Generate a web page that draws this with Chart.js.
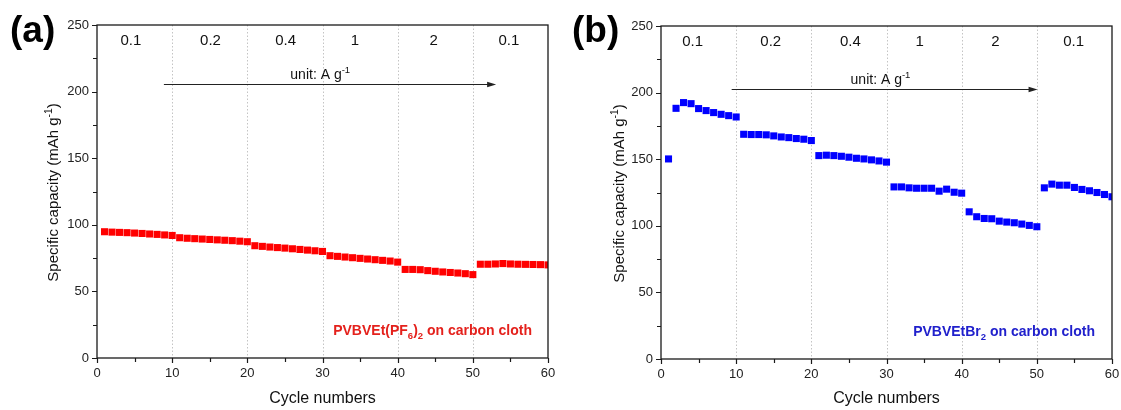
<!DOCTYPE html>
<html>
<head>
<meta charset="utf-8">
<script src="https://cdn.jsdelivr.net/npm/chart.js@4.4.1/dist/chart.umd.min.js"></script>
<style>
  html, body { margin: 0; padding: 0; background: #fff; }
  #wrap { position: relative; width: 1121px; height: 410px; overflow: hidden; }
  .panel { position: absolute; top: 0; }
</style>
</head>
<body>
<div id="wrap">
  <canvas id="chartA" class="panel" style="left:0px" width="560" height="410"></canvas>
  <canvas id="chartB" class="panel" style="left:560px" width="561" height="410"></canvas>
</div>
<script>
// Cycle index
const cycles = [
  1, 2, 3, 4, 5, 6, 7, 8, 9, 10,
  11, 12, 13, 14, 15, 16, 17, 18, 19, 20,
  21, 22, 23, 24, 25, 26, 27, 28, 29, 30,
  31, 32, 33, 34, 35, 36, 37, 38, 39, 40,
  41, 42, 43, 44, 45, 46, 47, 48, 49, 50,
  51, 52, 53, 54, 55, 56, 57, 58, 59, 60
];

// Specific capacity (mAh g-1), PVBVEt(PF6)2 on carbon cloth
const capacityPF6 = [
  94.8, 94.5, 94.3, 94.1, 93.8, 93.5, 93.1, 92.8, 92.4, 92.0,
  90.3, 89.9, 89.6, 89.3, 89.0, 88.7, 88.4, 88.1, 87.7, 87.3,
  84.3, 83.8, 83.3, 82.9, 82.5, 82.0, 81.5, 81.0, 80.5, 80.0,
  76.8, 76.3, 75.8, 75.3, 74.8, 74.3, 73.8, 73.3, 72.8, 72.0,
  66.5, 66.5, 66.3, 65.6, 65.1, 64.6, 64.2, 63.8, 63.3, 62.6,
  70.4, 70.4, 70.6, 70.9, 70.6, 70.4, 70.3, 70.2, 70.1, 69.9
];

// Specific capacity (mAh g-1), PVBVEtBr2 on carbon cloth
const capacityBr = [
  150.2, 188.2, 192.5, 191.7, 188.0, 186.5, 185.0, 183.7, 182.7, 181.7,
  168.7, 168.5, 168.5, 168.3, 167.5, 166.7, 166.2, 165.5, 165.0, 164.0,
  152.7, 153.0, 152.7, 152.2, 151.5, 150.7, 150.2, 149.5, 148.7, 147.8,
  129.2, 129.2, 128.5, 128.2, 128.2, 128.2, 126.0, 127.5, 125.2, 124.5,
  110.5, 106.8, 105.5, 105.3, 103.5, 102.8, 102.3, 101.3, 100.3, 99.3,
  128.5, 131.3, 130.5, 130.5, 128.8, 127.3, 126.3, 125.0, 123.5, 121.8
];

// Current density of each step (A g-1)
const rateLabels = ['0.1', '0.2', '0.4', '1', '2', '0.1'];
// Labelled tick values
const xTickLabels = [0, 10, 20, 30, 40, 50, 60];
const yTickLabels = [0, 50, 100, 150, 200, 250];

const FONT = '"Liberation Sans", Arial, sans-serif';

// Text made of runs; each run can be normal, subscript or superscript
function richWidth(ctx, runs, size, weight) {
  let w = 0;
  for (const r of runs) {
    const s = r.k ? size * 0.68 : size;
    ctx.font = `${weight} ${s}px ${FONT}`;
    w += ctx.measureText(r.t).width;
  }
  return w;
}
function drawRich(ctx, runs, x, y, size, weight, color, align) {
  const total = richWidth(ctx, runs, size, weight);
  let cx = align === 'right' ? x - total : align === 'center' ? x - total / 2 : x;
  ctx.fillStyle = color;
  ctx.textBaseline = 'alphabetic';
  ctx.textAlign = 'left';
  for (const r of runs) {
    const s = r.k ? size * 0.68 : size;
    ctx.font = `${weight} ${s}px ${FONT}`;
    let dy = 0;
    if (r.k === 'sub') dy = size * 0.28;
    if (r.k === 'sup') dy = -size * 0.42;
    ctx.fillText(r.t, cx, y + dy);
    cx += ctx.measureText(r.t).width;
  }
}

const yTitle = [{ t: 'Specific capacity (mAh g' }, { t: '-1', k: 'sup' }, { t: ')' }];
const unitText = [{ t: 'unit: A g' }, { t: '-1', k: 'sup' }];

// Frame, ticks, dotted separators and annotations
const decorPlugin = {
  id: 'decor',
  beforeDatasetsDraw(chart, args, o) {
    const { ctx, chartArea: a, scales: { x } } = chart;
    ctx.save();
    ctx.strokeStyle = '#c4c4c4';
    ctx.lineWidth = 1;
    ctx.setLineDash([1.5, 2]);
    for (const v of [10, 20, 30, 40, 50]) {
      const px = Math.round(x.getPixelForValue(v)) + 0.5;
      ctx.beginPath();
      ctx.moveTo(px, a.top);
      ctx.lineTo(px, a.bottom);
      ctx.stroke();
    }
    ctx.restore();
  },
  afterDraw(chart, args, o) {
    const { ctx, chartArea: a, scales: { x, y } } = chart;
    ctx.save();
    // frame
    ctx.strokeStyle = '#1a1a1a';
    ctx.lineWidth = 1.3;
    ctx.strokeRect(a.left, a.top, a.right - a.left, a.bottom - a.top);
    // tick marks
    ctx.lineWidth = 1.2;
    ctx.beginPath();
    for (const t of y.ticks) {
      const py = Math.round(y.getPixelForValue(t.value)) + 0.5;
      const len = t.value % 50 === 0 ? 5 : 4;
      ctx.moveTo(a.left, py);
      ctx.lineTo(a.left - len, py);
    }
    for (const t of x.ticks) {
      const px = Math.round(x.getPixelForValue(t.value)) + 0.5;
      const len = t.value % 10 === 0 ? 5 : 4;
      ctx.moveTo(px, a.bottom);
      ctx.lineTo(px, a.bottom + len);
    }
    ctx.stroke();

    // rate labels along the top
    ctx.fillStyle = '#111';
    ctx.font = `15px ${FONT}`;
    ctx.textAlign = 'center';
    ctx.textBaseline = 'middle';
    rateLabels.forEach((lbl, i) => {
      ctx.fillText(lbl, x.getPixelForValue(o.rateX[i]), y.getPixelForValue(o.rateY));
    });

    // unit text and arrow
    drawRich(ctx, unitText, x.getPixelForValue(o.unitX), y.getPixelForValue(o.unitY), 14, 'normal', '#111', 'center');
    const ay = Math.round(y.getPixelForValue(o.arrowY)) + 0.5;
    const ax0 = x.getPixelForValue(o.arrowX[0]);
    const ax1 = x.getPixelForValue(o.arrowX[1]);
    ctx.strokeStyle = '#222';
    ctx.lineWidth = 1;
    ctx.beginPath();
    ctx.moveTo(ax0, ay);
    ctx.lineTo(ax1 - 6, ay);
    ctx.stroke();
    ctx.fillStyle = '#222';
    ctx.beginPath();
    ctx.moveTo(ax1, ay);
    ctx.lineTo(ax1 - 9, ay - 2.8);
    ctx.lineTo(ax1 - 9, ay + 2.8);
    ctx.closePath();
    ctx.fill();

    // sample name
    drawRich(ctx, o.sample, a.right - o.sampleInset, o.sampleBase, 14, 'bold', o.sampleColor, 'right');

    // panel letter
    ctx.fillStyle = '#000';
    ctx.font = `bold 37px ${FONT}`;
    ctx.textAlign = 'left';
    ctx.textBaseline = 'alphabetic';
    ctx.fillText(o.panel, o.panelX, 42);

    // axis titles
    ctx.save();
    ctx.translate(o.yTitleX, (a.top + a.bottom) / 2 + 1);
    ctx.rotate(-Math.PI / 2);
    drawRich(ctx, yTitle, 0, 5, 15, 'normal', '#111', 'center');
    ctx.restore();
    ctx.fillStyle = '#111';
    ctx.font = `16px ${FONT}`;
    ctx.textAlign = 'center';
    ctx.textBaseline = 'alphabetic';
    ctx.fillText('Cycle numbers', (a.left + a.right) / 2, 403);
    ctx.restore();
  }
};

function makePanel(canvasId, values, color, area, deco) {
  const canvas = document.getElementById(canvasId);
  const W = canvas.width, H = canvas.height;
  return new Chart(canvas, {
    type: 'scatter',
    data: {
      datasets: [{
        data: cycles.map((c, i) => ({ x: c, y: values[i] })),
        pointStyle: 'rect',
        pointRadius: 5,
        pointHoverRadius: 5,
        backgroundColor: color,
        borderColor: color,
        borderWidth: 0,
        clip: 0
      }]
    },
    options: {
      responsive: false,
      animation: false,
      events: [],
      layout: { padding: { top: area.top, right: W - area.right, left: 0, bottom: 0 } },
      plugins: { legend: { display: false }, tooltip: { enabled: false }, decor: deco },
      scales: {
        x: {
          type: 'linear', min: 0, max: 60,
          afterFit: s => { s.height = H - area.bottom; s.paddingLeft = 0; s.paddingRight = 0; },
          grid: { display: false, drawTicks: false },
          border: { display: false },
          ticks: {
            stepSize: 5, autoSkip: false, maxRotation: 0, padding: 8,
            color: '#222', font: { family: FONT, size: 13 },
            callback: v => (xTickLabels.includes(v) ? String(v) : '')
          }
        },
        y: {
          type: 'linear', min: 0, max: 250,
          afterFit: s => { s.width = area.left; s.paddingTop = 0; s.paddingBottom = 0; },
          grid: { display: false, drawTicks: false },
          border: { display: false },
          ticks: {
            stepSize: 25, autoSkip: false, padding: 8,
            color: '#222', font: { family: FONT, size: 13 },
            callback: v => (yTickLabels.includes(v) ? String(v) : '')
          }
        }
      }
    },
    plugins: [decorPlugin]
  });
}

makePanel('chartA', capacityPF6, '#ff0000',
  { left: 97, right: 548, top: 25, bottom: 358 },
  {
    panel: '(a)', panelX: 10, yTitleX: 53,
    rateX: [4.5, 15.1, 25.1, 34.3, 44.8, 54.8], rateY: 238,
    unitX: 29.7, unitY: 209.5, arrowX: [8.9, 53.1], arrowY: 205.7,
    sample: [{ t: 'PVBVEt(PF' }, { t: '6', k: 'sub' }, { t: ')' }, { t: '2', k: 'sub' }, { t: ' on carbon cloth' }],
    sampleColor: '#e4211c', sampleInset: 16, sampleBase: 335
  });

makePanel('chartB', capacityBr, '#0000ff',
  { left: 101, right: 552, top: 26, bottom: 359 },
  {
    panel: '(b)', panelX: 12, yTitleX: 59,
    rateX: [4.2, 14.6, 25.2, 34.4, 44.5, 54.9], rateY: 238,
    unitX: 29.2, unitY: 206.5, arrowX: [9.4, 50.1], arrowY: 202.6,
    sample: [{ t: 'PVBVEtBr' }, { t: '2', k: 'sub' }, { t: ' on carbon cloth' }],
    sampleColor: '#2020cc', sampleInset: 17, sampleBase: 336
  });
</script>
</body>
</html>
